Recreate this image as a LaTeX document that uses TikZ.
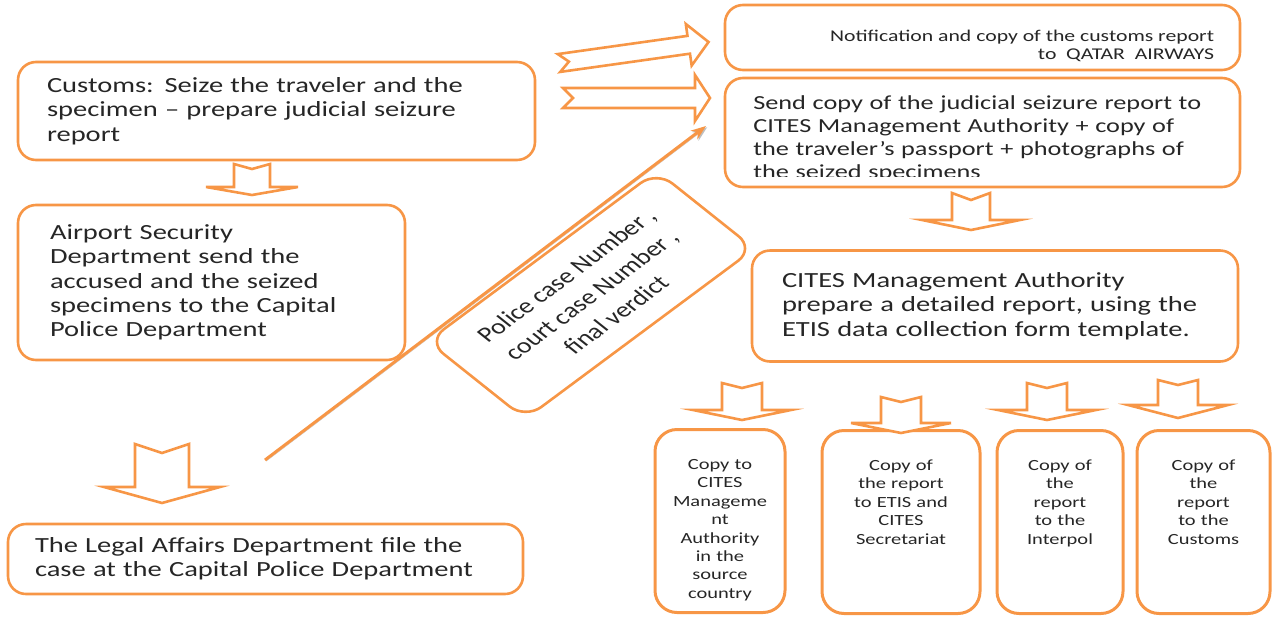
\documentclass[tikz,border=0pt]{standalone}
\usepackage{fontspec}
\setmainfont{Carlito}[FakeStretch=1.32]
\newfontfamily\plainfont{Carlito}
\usetikzlibrary{arrows.meta}
\definecolor{boxorange}{HTML}{F79646}
\definecolor{inkgray}{HTML}{262626}
\tikzset{
  stepbox/.style={draw=boxorange, line width=2.6pt, rounded corners=18pt, text=inkgray, inner sep=0pt, align=left,
    font=\fontsize{21.6}{24.3}\selectfont},
  copybox/.style={draw=boxorange, line width=3pt, rounded corners=22pt, inner sep=0pt, minimum height=183pt},
  copytext/.style={text=inkgray, inner sep=0pt, align=center, anchor=base, text width=120pt,
    font=\fontsize{15.5}{18.4}\selectfont},
  hollow/.style={draw=boxorange, line width=2.6pt, fill=white},
  verdictline/.style={draw=boxorange, line width=3pt, -{Stealth[length=15pt, width=11pt]},
    preaction={draw=black!25, transform canvas={shift={(1.2pt,-1.2pt)}}}},
  pics/hollowarrow/.style n args={5}{code={
    \draw[hollow] (0,#2) -- ({#1-#4},#2) -- ({#1-#4},#3) -- (#1,0) -- ({#1-#4},-#3) -- ({#1-#4},-#2) -- (0,-#2) -- (#5,0) -- cycle;
  }},
}
\begin{document}
\begin{tikzpicture}[x=1pt, y=-1pt]
  \useasboundingbox (0,0) rectangle (1277,619);

  \node[stepbox, minimum width=517pt, minimum height=98pt, text width=459pt, inner xsep=29pt] (customs) at (276.5,111)
    {Customs: Seize the traveler and the\\ specimen -- prepare judicial seizure\\ report};
  \node[stepbox, minimum width=387pt, minimum height=155pt, text width=323pt, inner xsep=32pt] (airport) at (211.5,282.5)
    {Airport Security\\ Department send the\\ accused and the seized\\ specimens to the Capital\\ Police Department};
  \node[stepbox, minimum width=515pt, minimum height=70pt, text width=461pt, inner xsep=27pt] (legal) at (265.5,559)
    {The Legal Affairs Department file the\\ case at the Capital Police Department};

  \node[stepbox, minimum width=515pt, minimum height=65pt] (notify) at (982.5,37.5) {};
  \node[text=inkgray, inner sep=0pt, align=right, anchor=east, font=\fontsize{16.45}{18}\selectfont] (notifytext)
    at ([xshift=-27pt, yshift=-8.5pt]notify.east) {Notification and copy of the customs report\\ to\ \ QATAR\ \ AIRWAYS};

  \node[stepbox, minimum width=515pt, minimum height=109pt] (sendcopy) at (982.5,132.5) {};
  \begin{scope}
    \clip (727,80) rectangle (1238,176);
    \node[stepbox, draw=none, anchor=base west, text width=480pt, font=\fontsize{19.9}{23}\selectfont] (sendtext) at (752,109)
      {Send copy of the judicial seizure report to\\ CITES Management Authority + copy of\\ the traveler's passport + photographs of\\ the seized specimens};
  \end{scope}

  \node[stepbox, minimum width=486pt, minimum height=111pt, text width=426pt, inner xsep=30pt] (cites) at (995,306)
    {CITES Management Authority\\ prepare a detailed report, using the\\ ETIS data collection form template.};

  \node[stepbox, xscale=1.3, rotate=44, minimum width=245pt, minimum height=108pt, rounded corners=20pt, align=center,
    font=\plainfont\fontsize{21.5}{27.5}\selectfont] (verdict) at (591,295)
    {Police case Number ,\\ court case Number ,\\ final verdict};

  \node[copybox, minimum width=130pt] (copya) at (720,521) {};
  \node[copybox, minimum width=158pt] (copyb) at (901,522) {};
  \node[copybox, minimum width=126pt] (copyc) at (1060,522) {};
  \node[copybox, minimum width=133pt] (copyd) at (1203.5,522) {};
  \node[copytext] (copyatext) at ([yshift=-41.5pt]copya.north)
    {Copy to\\ CITES\\ Manageme\\ nt\\ Authority\\ in the\\ source\\ country};
  \node[copytext] (copybtext) at ([yshift=-41.5pt]copyb.north)
    {Copy of\\ the report\\ to ETIS and\\ CITES\\ Secretariat};
  \node[copytext] (copyctext) at ([yshift=-41.5pt]copyc.north)
    {Copy of\\ the\\ report\\ to the\\ Interpol};
  \node[copytext] (copydtext) at ([yshift=-41.5pt]copyd.north)
    {Copy of\\ the\\ report\\ to the\\ Customs};

  \pic[rotate=-90] at (252,164) {hollowarrow={31}{18}{46}{8}{5}};
  \pic[rotate=-90] at (162,444) {hollowarrow={59}{27}{58}{16}{9}};
  \pic[rotate=-90] at (971,193) {hollowarrow={37}{19}{49}{10}{7}};
  \pic[rotate=-90] at (742,383) {hollowarrow={37}{20}{49}{10}{5}};
  \pic[rotate=-90] at (901,397) {hollowarrow={36}{20}{50}{10}{5}};
  \pic[rotate=-90] at (1047,383) {hollowarrow={37}{20}{49}{10}{5}};
  \pic[rotate=-90] at (1178,380) {hollowarrow={38}{20}{50}{13}{5}};
  \pic[rotate=8] at (559,63) {hollowarrow={151}{9}{21}{20}{10}};
  \pic at (563,98) {hollowarrow={147}{10}{23}{15}{10}};

  \coordinate (verdictfoot) at (265,460);
  \coordinate (verdicttip) at (706,126);
  \draw[verdictline] (verdictfoot) -- (verdicttip);
\end{tikzpicture}
\end{document}
